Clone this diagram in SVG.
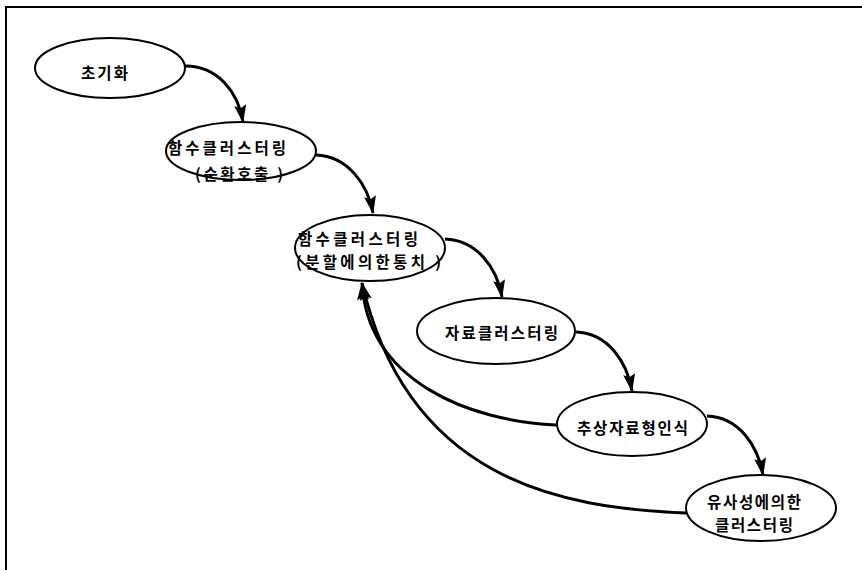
<svg xmlns="http://www.w3.org/2000/svg" width="862" height="570" viewBox="0 0 862 570">
<defs>
<style>
.node ellipse{fill:#fff;stroke:#000;stroke-width:2}
.node text{font-family:"Noto Sans CJK KR","Noto Sans",sans-serif;font-size:15.5px;font-weight:bold;fill:#000;dominant-baseline:central}
.edge{fill:none;stroke:#000;stroke-width:3}
.frame{stroke:#000;stroke-width:2;fill:none}
</style>
<marker id="ah" markerWidth="18" markerHeight="12" refX="17" refY="6" orient="auto" markerUnits="userSpaceOnUse">
<path d="M0,0 L18,6 L0,12 L3,6 Z" fill="#000"/>
</marker>
</defs>
<rect width="862" height="570" fill="#fff"/>
<path class="frame" d="M6,570 L6,7 L862,7"/>
<g id="connectors">
<path class="edge" d="M185,66 C218,66 238,92 243,122" marker-end="url(#ah)"/>
<path class="edge" d="M316,155 C348,156 368,185 373,213" marker-end="url(#ah)"/>
<path class="edge" d="M445,239 C477,240 497,268 502,297" marker-end="url(#ah)"/>
<path class="edge" d="M576,332 C608,333 627,362 632,391" marker-end="url(#ah)"/>
<path class="edge" d="M707,416 C739,417 758,446 763,475" marker-end="url(#ah)"/>
<path class="edge" d="M556,425 C470,421 368,382 362,283" marker-end="url(#ah)"/>
<path class="edge" d="M686,513 C560,508 408,480 362,283" marker-end="url(#ah)"/>
</g>
<g id="n1" class="node">
<ellipse cx="110" cy="68" rx="75" ry="30"/>
<text x="81" y="72" textLength="47" lengthAdjust="spacing">초기화</text>
</g>
<g id="n2" class="node">
<ellipse cx="241" cy="151" rx="75" ry="29"/>
<text x="168" y="147" textLength="118" lengthAdjust="spacing">함수클러스터링</text>
<text x="195" y="173" textLength="88" lengthAdjust="spacing">(순환호출 )</text>
</g>
<g id="n3" class="node">
<ellipse cx="370" cy="248" rx="75" ry="33"/>
<text x="298" y="238" textLength="120" lengthAdjust="spacing">함수클러스터링</text>
<text x="296" y="261" textLength="145" lengthAdjust="spacing">(분할에의한통치 )</text>
</g>
<g id="n4" class="node">
<ellipse cx="496" cy="331" rx="79" ry="33"/>
<text x="445" y="332" textLength="113" lengthAdjust="spacing">자료클러스터링</text>
</g>
<g id="n5" class="node">
<ellipse cx="632" cy="424" rx="75" ry="32"/>
<text x="577" y="427" textLength="111" lengthAdjust="spacing">추상자료형인식</text>
</g>
<g id="n6" class="node">
<ellipse cx="761" cy="508" rx="75" ry="33"/>
<text x="707" y="501" textLength="94" lengthAdjust="spacing">유사성에의한</text>
<text x="715" y="524" textLength="78" lengthAdjust="spacing">클러스터링</text>
</g>
</svg>
